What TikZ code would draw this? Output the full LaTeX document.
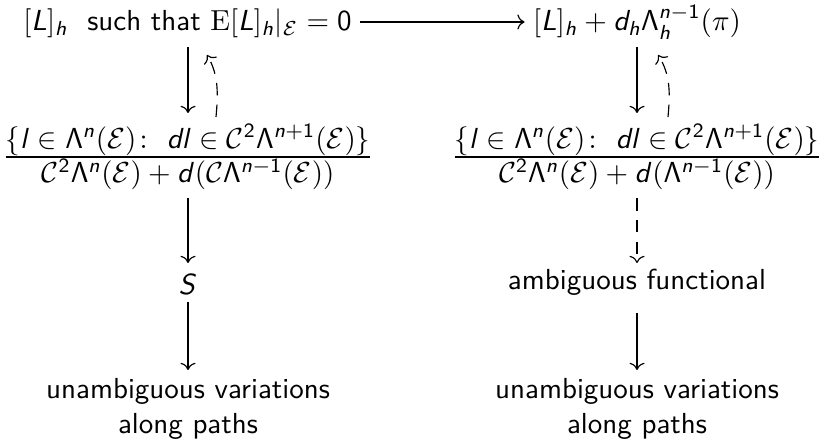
\documentclass[tikz,border=0pt]{standalone}
\usepackage{amsmath}
\renewcommand{\familydefault}{\sfdefault}
\DeclareSymbolFont{sfit}{OT1}{cmss}{m}{sl}
\DeclareSymbolFont{sfup}{OT1}{cmss}{m}{n}
\DeclareMathSymbol{L}{\mathalpha}{sfit}{`L}
\DeclareMathSymbol{h}{\mathalpha}{sfit}{`h}
\DeclareMathSymbol{d}{\mathalpha}{sfit}{`d}
\DeclareMathSymbol{n}{\mathalpha}{sfit}{`n}
\DeclareMathSymbol{l}{\mathalpha}{sfit}{`l}
\DeclareMathSymbol{S}{\mathalpha}{sfit}{`S}
\DeclareMathSymbol{0}{\mathalpha}{sfup}{`0}
\DeclareMathSymbol{1}{\mathalpha}{sfup}{`1}
\DeclareMathSymbol{2}{\mathalpha}{sfup}{`2}
\DeclareMathSymbol{\Lambda}{\mathalpha}{sfup}{"03}
\newcommand{\tfr}[2]{\frac{\textstyle #1}{\textstyle #2}}
\usetikzlibrary{cd,calc}
\begin{document}
\begin{tikzpicture}[x=0.345pt,y=-0.345pt,
  lbl/.style={inner sep=0pt, anchor=base},
  arr/.style={-{tikzcd to}, line width=0.4pt},
  darr/.style={arr, dash pattern=on 4.3pt off 3.2pt}]
\useasboundingbox (0,0) rectangle (825,443);
\node[lbl] (tl) at (187.5,31) {$[L]_h$\ \ such that\ $\mathrm{E}[L]_h|_{\mathcal{E}} = 0$};
\node[lbl] (tr) at (637,31) {$[L]_h + d_h\Lambda^{n-1}_h(\pi)$};
\node[lbl] (fl) at (188,164.25) {$\tfr{\{l\in\Lambda^n(\mathcal{E})\colon\ dl\in\mathcal{C}^2\Lambda^{n+1}(\mathcal{E})\}}{\mathcal{C}^2\Lambda^n(\mathcal{E})+d(\mathcal{C}\Lambda^{n-1}(\mathcal{E}))}$};
\node[lbl] (fr) at (637,164.25) {$\tfr{\{l\in\Lambda^n(\mathcal{E})\colon\ dl\in\mathcal{C}^2\Lambda^{n+1}(\mathcal{E})\}}{\mathcal{C}^2\Lambda^n(\mathcal{E})+d(\Lambda^{n-1}(\mathcal{E}))}$};
\node[lbl] (s) at (188,295) {$S$};
\node[lbl] (af) at (637,290) {ambiguous functional};
\node[inner sep=0pt, anchor=north, align=center] (bl) at (188,378) {unambiguous variations\\along paths};
\node[inner sep=0pt, anchor=north, align=center] (br) at (637,378) {unambiguous variations\\along paths};
% arrows
\draw[arr] ($(tl.base east)+(8,-9)$) -- ($(tr.base west)+(-8,-9)$);
\draw[arr] ($(fl.base |- tl.base)+(0,16)$) -- ($(fl.base)+(0,-51.25)$);
\draw[darr] ($(fl.base)+(28,-47.25)$) .. controls ($(fl.base)+(30,-69.25)$) and ($(fl.base)+(31,-89.25)$) .. ($(tl.base)+(19.5,24)$);
\draw[arr] ($(fr.base |- tr.base)+(0,16)$) -- ($(fr.base)+(0,-51.25)$);
\draw[darr] ($(fr.base)+(31,-47.25)$) .. controls ($(fr.base)+(33,-69.25)$) and ($(fr.base)+(34,-89.25)$) .. ($(tr.base)+(21,24)$);
\draw[arr] ($(fl.base)+(0,34)$) -- ($(s.base)+(0,-32)$);
\draw[arr] ($(s.base)+(0,7)$) -- ($(bl.north)+(0,-8)$);
\draw[darr] ($(fr.base)+(0,34)$) -- ($(af.base)+(0,-27)$);
\draw[arr] ($(af.base)+(0,23)$) -- ($(br.north)+(0,-8)$);
\end{tikzpicture}
\end{document}
